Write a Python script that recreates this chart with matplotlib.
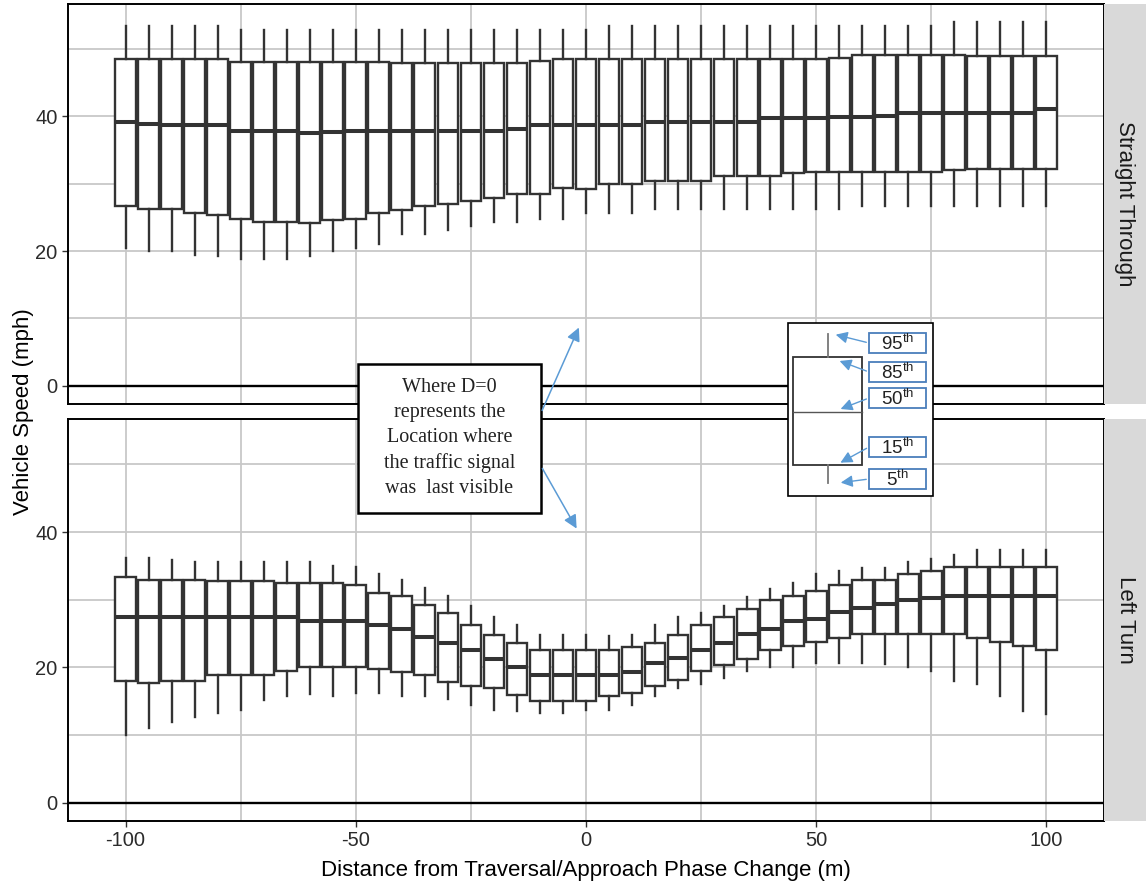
import matplotlib
matplotlib.use("Agg")
import matplotlib.pyplot as plt
from matplotlib.patches import Rectangle, FancyArrowPatch

plt.rcParams["font.family"] = ["Liberation Sans", "DejaVu Sans"]
plt.rcParams["mathtext.fontset"] = "custom"
plt.rcParams["mathtext.rm"] = "Liberation Sans"
plt.rcParams["axes.unicode_minus"] = False

# distance from phase change (m)
dist = [-100, -95, -90, -85, -80, -75, -70, -65, -60, -55, -50, -45, -40, -35,
        -30, -25, -20, -15, -10, -5, 0, 5, 10, 15, 20, 25, 30, 35, 40, 45, 50,
        55, 60, 65, 70, 75, 80, 85, 90, 95, 100]

# Straight Through percentiles (mph)
st_p95 = [53.5, 53.5, 53.5, 53.5, 53.5, 52.9, 52.8, 52.8, 52.8, 52.8, 52.8, 52.8, 52.8, 52.8,
          52.8, 52.8, 52.8, 52.8, 52.8, 52.8, 52.8, 53.5, 53.5, 53.5, 53.5, 53.5, 53.5, 53.5,
          53.5, 53.5, 53.5, 53.5, 53.5, 53.5, 53.5, 53.5, 54.0, 54.0, 54.0, 54.0, 54.0]
st_p85 = [48.5, 48.5, 48.5, 48.5, 48.5, 48.1, 48.1, 48.1, 48.1, 48.1, 48.1, 48.1, 48.0, 48.0,
          48.0, 48.0, 48.0, 48.0, 48.2, 48.5, 48.5, 48.5, 48.5, 48.5, 48.5, 48.5, 48.5, 48.5,
          48.5, 48.5, 48.5, 48.7, 49.1, 49.1, 49.1, 49.1, 49.1, 49.0, 49.0, 49.0, 49.0]
st_p50 = [39.2, 38.9, 38.7, 38.7, 38.7, 37.8, 37.8, 37.8, 37.6, 37.7, 37.8, 37.8, 37.8, 37.8,
          37.8, 37.8, 37.8, 38.2, 38.7, 38.7, 38.7, 38.7, 38.7, 39.2, 39.2, 39.2, 39.2, 39.2,
          39.8, 39.8, 39.8, 39.9, 39.9, 40.1, 40.5, 40.5, 40.5, 40.5, 40.5, 40.5, 41.1]
st_p15 = [26.7, 26.2, 26.2, 25.7, 25.3, 24.8, 24.3, 24.3, 24.2, 24.6, 24.8, 25.7, 26.1, 26.7,
          27.0, 27.5, 27.9, 28.5, 28.5, 29.4, 29.3, 30.0, 30.0, 30.4, 30.4, 30.4, 31.2, 31.2,
          31.2, 31.6, 31.7, 31.7, 31.7, 31.7, 31.7, 31.7, 32.0, 32.2, 32.2, 32.2, 32.2]
st_p5 = [20.5, 20.0, 20.0, 19.5, 19.3, 18.8, 18.8, 18.8, 19.3, 20.0, 20.5, 21.0, 22.5, 22.6,
         23.1, 23.7, 24.3, 24.3, 24.7, 24.7, 25.7, 25.7, 25.7, 26.2, 26.2, 26.2, 26.2, 26.2,
         26.2, 26.2, 26.2, 26.2, 26.7, 26.7, 26.7, 26.7, 26.7, 26.7, 26.7, 26.7, 26.7]

# Left Turn percentiles (mph)
lt_p95 = [36.1, 36.1, 35.9, 35.5, 35.5, 35.5, 35.5, 35.5, 35.5, 35.0, 34.9, 33.8, 32.9, 31.8,
          30.6, 29.1, 27.4, 26.2, 24.8, 24.8, 24.8, 24.7, 24.8, 26.2, 27.4, 28.1, 29.1, 30.4,
          31.6, 32.4, 33.8, 34.3, 34.7, 34.7, 35.5, 36.0, 36.6, 37.4, 37.4, 37.4, 37.4]
lt_p85 = [33.3, 32.9, 32.9, 32.9, 32.7, 32.7, 32.7, 32.4, 32.4, 32.4, 32.1, 31.0, 30.6, 29.2,
          28.1, 26.3, 24.8, 23.6, 22.5, 22.5, 22.5, 22.5, 23.0, 23.6, 24.8, 26.2, 27.4, 28.6,
          30.0, 30.5, 31.3, 32.1, 32.9, 32.9, 33.8, 34.3, 34.9, 34.9, 34.9, 34.9, 34.9]
lt_p50 = [27.4, 27.4, 27.4, 27.4, 27.4, 27.4, 27.4, 27.4, 26.9, 26.9, 26.9, 26.2, 25.6, 24.5,
          23.6, 22.6, 21.3, 20.0, 18.8, 18.8, 18.8, 18.8, 19.3, 20.6, 21.4, 22.6, 23.6, 24.9,
          25.7, 26.9, 27.2, 28.2, 28.8, 29.3, 30.0, 30.3, 30.5, 30.5, 30.5, 30.5, 30.5]
lt_p15 = [18.0, 17.7, 18.0, 18.0, 18.9, 18.9, 18.9, 19.4, 20.0, 20.0, 20.0, 19.7, 19.3, 18.8,
          17.8, 17.3, 17.0, 15.9, 15.1, 15.1, 15.1, 15.7, 16.2, 17.3, 18.1, 19.4, 20.4, 21.2,
          22.6, 23.1, 23.8, 24.4, 24.9, 24.9, 24.9, 24.9, 24.9, 24.4, 23.8, 23.1, 22.6]
lt_p5 = [10.0, 11.0, 12.0, 12.7, 13.2, 13.7, 15.2, 15.7, 16.0, 15.7, 16.2, 16.2, 15.7, 15.7,
         15.4, 14.4, 13.7, 13.6, 13.2, 13.2, 13.7, 13.7, 14.4, 15.7, 17.0, 17.5, 18.5, 19.5,
         20.0, 20.0, 20.6, 20.6, 20.6, 20.5, 20.0, 19.5, 18.0, 17.5, 15.7, 13.6, 13.1]

panels = [
    ("Straight Through", st_p5, st_p15, st_p50, st_p85, st_p95),
    ("Left Turn", lt_p5, lt_p15, lt_p50, lt_p85, lt_p95),
]

W, H = 1146, 888
fig = plt.figure(figsize=(W / 100, H / 100), dpi=100)

def fx(px):
    return px / W

def fy(py):
    return 1 - py / H

# panel pixel extents: (top, bottom)
panel_px = [(4, 404), (419, 821)]
left_px, right_px, strip_right = 68, 1104, 1146

line_col = "#333333"
grid_col = "#c8c8c8"

for i, (name, p5, p15, p50, p85, p95) in enumerate(panels):
    top, bot = panel_px[i]
    ax = fig.add_axes([fx(left_px), fy(bot), fx(right_px - left_px), (bot - top) / H])
    ax.set_xlim(-112.5, 112.5)
    ax.set_ylim(-2.7, 56.7)

    ax.set_xticks([-100, -50, 0, 50, 100])
    ax.set_xticks([-75, -25, 25, 75], minor=True)
    ax.set_yticks([0, 20, 40])
    ax.set_yticks([10, 30, 50], minor=True)
    ax.grid(True, which="both", color=grid_col, linewidth=1.3, zorder=0)
    ax.set_axisbelow(True)
    ax.tick_params(which="minor", length=0)
    ax.tick_params(which="major", length=4, width=1, color=line_col,
                   labelsize=14.5, labelcolor="#2b2b2b")
    if i == 0:
        ax.tick_params(axis="x", which="major", length=0, labelbottom=False)
    for sp in ax.spines.values():
        sp.set_color("black")
        sp.set_linewidth(1.4)

    ax.axhline(0, color="black", linewidth=1.7, zorder=1)

    stats = []
    for k in range(len(dist)):
        stats.append({"whislo": p5[k], "q1": p15[k], "med": p50[k],
                      "q3": p85[k], "whishi": p95[k]})
    ax.bxp(stats, positions=dist, widths=4.5, showfliers=False, showcaps=False,
           patch_artist=True, manage_ticks=False,
           boxprops=dict(facecolor="white", edgecolor=line_col, linewidth=1.7),
           whiskerprops=dict(color=line_col, linewidth=1.7),
           medianprops=dict(color=line_col, linewidth=2.9))

    # facet strip
    sax = fig.add_axes([fx(right_px), fy(bot), fx(strip_right - right_px), (bot - top) / H])
    sax.set_facecolor("#d9d9d9")
    sax.set_xticks([])
    sax.set_yticks([])
    for sp in sax.spines.values():
        sp.set_visible(False)
    sax.text(0.5, 0.5, name, rotation=270, ha="center", va="center",
             fontsize=16, color="#1a1a1a", transform=sax.transAxes)

fig.text(fx(586), fy(870), "Distance from Traversal/Approach Phase Change (m)",
         ha="center", va="center", fontsize=16, color="black")
fig.text(fx(24), fy(412), "Vehicle Speed (mph)", rotation=90,
         ha="center", va="center", fontsize=16, color="black")

# overlay in pixel coordinates for the pasted annotations
ov = fig.add_axes([0, 0, 1, 1], zorder=10)
ov.set_xlim(0, W)
ov.set_ylim(H, 0)
ov.axis("off")
ov.patch.set_alpha(0)

arrow_col = "#5b9bd5"

# note box
ov.add_patch(Rectangle((358, 364), 183, 149, facecolor="white", edgecolor="black", linewidth=1.8))
ov.text(449.5, 438, "Where D=0\nrepresents the\nLocation where\nthe traffic signal\nwas  last visible",
        ha="center", va="center", fontsize=14.5, family=["Liberation Serif", "DejaVu Serif"],
        linespacing=1.42, color="#222222")
for (x0, y0), (x1, y1) in [((541, 413), (580, 325)), ((541, 466), (578, 531))]:
    ov.add_patch(FancyArrowPatch((x0, y0), (x1, y1), arrowstyle="-|>,head_length=8,head_width=4",
                                 color=arrow_col, linewidth=1.1, mutation_scale=1))

# percentile key
ov.add_patch(Rectangle((788, 323), 145, 173, facecolor="white", edgecolor="black", linewidth=1.2))
ov.add_patch(Rectangle((793, 357), 69, 108, facecolor="white", edgecolor="#333333", linewidth=1.3))
ov.plot([793, 862], [412, 412], color="#555555", linewidth=1.0)
ov.plot([828, 828], [334, 357], color="#777777", linewidth=1.3)
ov.plot([828, 828], [465, 483], color="#777777", linewidth=1.3)

key_labels = ["95", "85", "50", "15", "5"]
key_ly = [343, 372, 398, 447, 479]
key_tip = [(833, 334), (837, 360), (838, 410), (838, 464), (838, 483)]
for lab, ly, (tx, ty) in zip(key_labels, key_ly, key_tip):
    ov.add_patch(Rectangle((869, ly - 10), 57, 20, facecolor="white", edgecolor="#4a7ebb", linewidth=1.3))
    ov.text(897.5, ly + 1, lab + r"$^{\mathrm{th}}$", ha="center", va="center",
            fontsize=13.5, color="#222222")
    ov.add_patch(FancyArrowPatch((869, ly), (tx, ty), arrowstyle="-|>,head_length=7,head_width=3.5",
                                 color=arrow_col, linewidth=1.0, mutation_scale=1))

fig.savefig("out.png", dpi=100)
